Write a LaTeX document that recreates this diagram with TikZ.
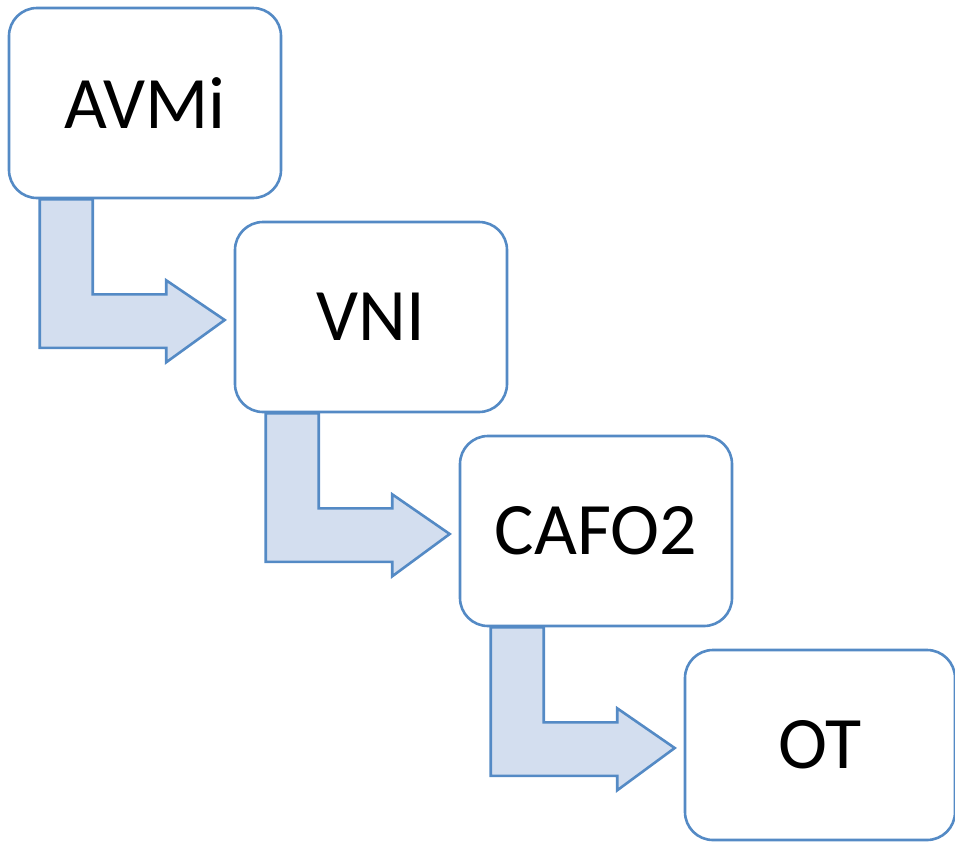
\documentclass[tikz,border=0pt]{standalone}
\usepackage{fontspec}
\setmainfont{Carlito}
\usetikzlibrary{calc}
\definecolor{boxline}{RGB}{84,138,197}
\definecolor{arrowfill}{RGB}{211,222,239}
\tikzset{
  stagebox/.style={draw=boxline, line width=2.6pt, fill=white, rounded corners=28pt,
    minimum width=272pt, minimum height=190pt, inner sep=0pt,
    font=\fontsize{74}{88}\selectfont, text=black},
  bentarrow/.style={draw=boxline, line width=2.6pt, fill=arrowfill, line join=miter}
}
\newcommand{\bendarrow}[2]{%
  \draw[bentarrow]
    ($(#1.south west)+(32,0)$) -- ($(#1.south west)+(85,0)$)
    -- ($(#1.south west)+(85,95)$) -- ($(#1.south west)+(158.5,95)$)
    -- ($(#1.south west)+(158.5,81)$) -- ($(#2.west)+(-9,3)$)
    -- ($(#1.south west)+(158.5,163)$) -- ($(#1.south west)+(158.5,148.5)$)
    -- ($(#1.south west)+(32,148.5)$) -- cycle;}
\begin{document}
\begin{tikzpicture}[x=1pt,y=-1pt]
\useasboundingbox (0,0) rectangle (955,841);
\node[stagebox] (a) at (145,103) {AVMi};
\node[stagebox] (b) at (371,317) {VNI};
\node[stagebox] (c) at (596,531) {CAFO2};
\node[stagebox, minimum width=270pt] (d) at (820,745) {OT};
\bendarrow{a}{b}
\bendarrow{b}{c}
\bendarrow{c}{d}
\end{tikzpicture}
\end{document}
